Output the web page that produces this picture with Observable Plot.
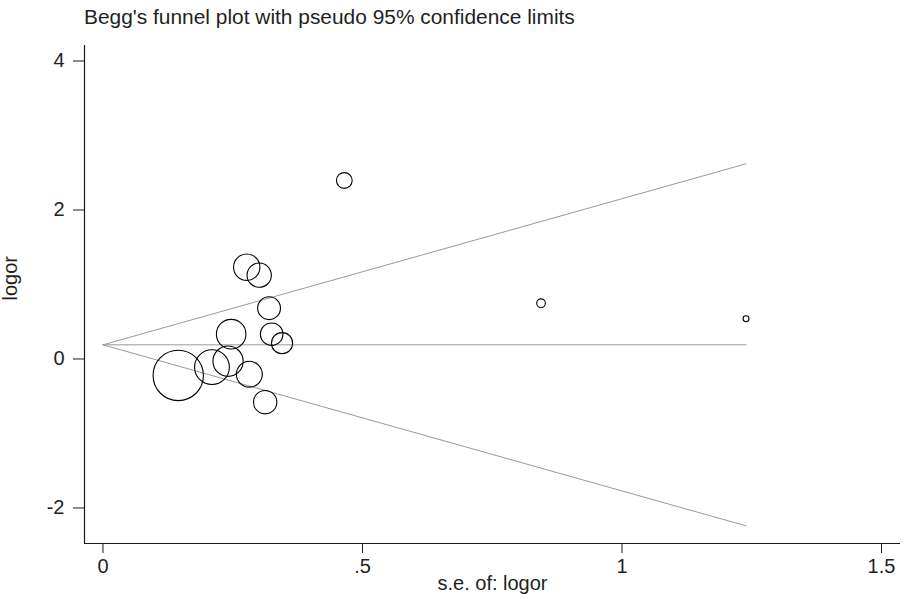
<!DOCTYPE html>
<html>
<head>
<meta charset="utf-8">
<script src="https://cdn.jsdelivr.net/npm/d3@7"></script>
<script src="https://cdn.jsdelivr.net/npm/@observablehq/plot@0.6"></script>
<style>
  html, body { margin: 0; padding: 0; background: #fff; }
  #wrap { position: relative; width: 911px; height: 599px; overflow: hidden; }
  #title { position: absolute; left: 84px; top: 7px; font-family: "Liberation Sans", Arial, sans-serif; font-size: 20px; line-height: 20px; color: #1f1f1f; white-space: nowrap; transform: scaleX(1.045); transform-origin: left center; }
  #chart { position: absolute; left: 0; top: 40px; }
</style>
</head>
<body>
<div id="wrap">
  <div id="title">Begg's funnel plot with pseudo 95% confidence limits</div>
  <div id="chart"></div>
</div>
<script>
// Study estimates
const se    = [0.145, 0.210, 0.241, 0.247, 0.277, 0.301, 0.282, 0.320, 0.325, 0.345, 0.3125, 0.465, 0.844, 1.239];
const logor = [-0.221, -0.110, -0.030, 0.333, 1.232, 1.125, -0.204, 0.682, 0.333, 0.212, -0.580, 2.396, 0.749, 0.540];

// Funnel (pooled estimate and pseudo 95% limits), endpoints
const funnelSe    = [0, 1.239];
const funnelMid   = [0.19, 0.19];
const funnelUpper = [0.19, 2.62];
const funnelLower = [0.19, -2.24];

// Axis ticks
const xTicks = [0, 0.5, 1, 1.5];
const xTickLabels = ["0", ".5", "1", "1.5"];
const yTicks = [-2, 0, 2, 4];
const yTickLabels = ["-2", "0", "2", "4"];

const xDomain = [-0.0356, 1.5366];
const yDomain = [-2.477, 4.208];

const studies = se.map((s, i) => ({se: s, logor: logor[i], w: 1 / (s * s)}));
const funnel = funnelSe.map((s, i) => ({se: s, mid: funnelMid[i], up: funnelUpper[i], lo: funnelLower[i]}));

const font = "'Liberation Sans', Arial, sans-serif";

const chart = Plot.plot({
  width: 911,
  height: 559,
  marginTop: 5,
  marginBottom: 56,
  marginLeft: 84,
  marginRight: 11,
  style: {fontFamily: font, fontSize: "20px", color: "#1f1f1f", background: "#fff"},
  x: {domain: xDomain},
  y: {domain: yDomain},
  r: {type: "sqrt", domain: [0, 1], range: [0, 3.65]},
  marks: [
    Plot.axisX({ticks: xTicks, tickFormat: (d) => xTickLabels[xTicks.indexOf(d)], tickSize: 10, tickPadding: 5, fontSize: 20, label: null, stroke: "#1a1a1a"}),
    Plot.axisY({ticks: yTicks, tickFormat: (d) => yTickLabels[yTicks.indexOf(d)], tickSize: 11, tickPadding: 9, fontSize: 20, label: null, stroke: "#1a1a1a"}),
    Plot.ruleX([xDomain[0]], {stroke: "#1a1a1a", strokeWidth: 1.2}),
    Plot.ruleY([yDomain[0]], {stroke: "#1a1a1a", strokeWidth: 1.2}),
    Plot.line(funnel, {x: "se", y: "mid", stroke: "#999", strokeWidth: 1}),
    Plot.line(funnel, {x: "se", y: "up", stroke: "#999", strokeWidth: 1}),
    Plot.line(funnel, {x: "se", y: "lo", stroke: "#999", strokeWidth: 1}),
    Plot.dot(studies, {x: "se", y: "logor", r: "w", stroke: "#000", strokeWidth: 1.1, fill: "none"}),
    Plot.text(["s.e. of: logor"], {frameAnchor: "bottom", dy: 46, fontSize: 20, fill: "#1f1f1f"}),
    Plot.text(["logor"], {frameAnchor: "left", dx: -74, dy: 6, rotate: -90, fontSize: 20, fill: "#1f1f1f"})
  ]
});
document.getElementById("chart").appendChild(chart);
</script>
</body>
</html>
